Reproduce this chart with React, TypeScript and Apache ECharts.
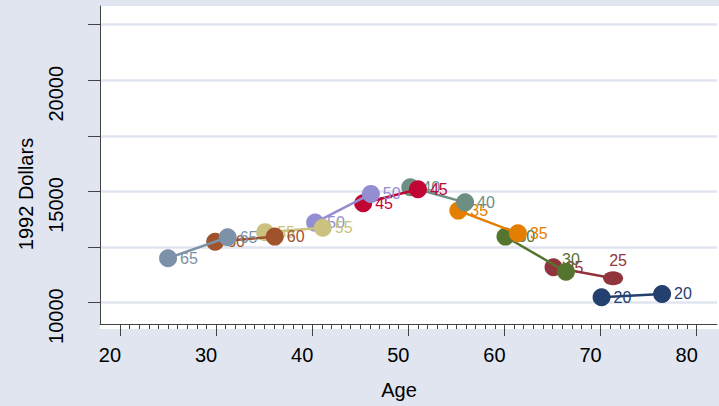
import React, { useEffect, useRef } from "react";
import * as echarts from "echarts";

// ---- data ----
const cohortLabels = ["20", "25", "30", "35", "40", "45", "50", "55", "60", "65"];
const firstAge = [70.1, 65.1, 60.1, 55.2, 50.2, 45.3, 40.3, 35.1, 29.9, 25.0];
const firstIncome = [10240, 11590, 12970, 14140, 15190, 14470, 13600, 13170, 12740, 12000];
const secondAge = [76.4, 71.3, 66.4, 61.4, 55.9, 51.0, 46.1, 41.1, 36.1, 31.2];
const secondIncome = [10390, 11100, 11390, 13120, 14510, 15100, 14890, 13370, 12970, 12940];

const xTickValues = [20, 30, 40, 50, 60, 70, 80];
const xMinorTickValues = [
  21, 22, 23, 24, 25, 26, 27, 28, 29,
  31, 32, 33, 34, 35, 36, 37, 38, 39,
  41, 42, 43, 44, 45, 46, 47, 48, 49,
  51, 52, 53, 54, 55, 56, 57, 58, 59,
  61, 62, 63, 64, 65, 66, 67, 68, 69,
  71, 72, 73, 74, 75, 76, 77, 78, 79,
];
const yTickValues = [10000, 12500, 15000, 17500, 20000, 22500];
const yLabelValues = [10000, 15000, 20000];

const xAxisTitle = "Age";
const yAxisTitle = "1992 Dollars";

// ---- styles ----
const cohortColors = [
  "#24406F", "#90353B", "#55752F", "#E37E00", "#6E8E84",
  "#C10534", "#938DD2", "#CAC27E", "#A0522D", "#7B92A8",
];
// label placement overrides (series index -> second point label offset from marker centre)
const secondPointLabelShift: Record<number, [number, number]> = {
  1: [5, -18],
  2: [5, -12],
};
// marker shape override (series index -> second point marker size)
const secondPointMarkerSize: Record<number, [number, number]> = {
  1: [20, 14],
};
const BG = "#E1E5F0";
const AXIS = "#444444";
const FONT = "'Liberation Sans', Arial, Helvetica, sans-serif";

export default function App() {
  const ref = useRef<HTMLDivElement>(null);

  useEffect(() => {
    if (!ref.current) return;
    const chart = echarts.init(ref.current, undefined, { renderer: "svg" });

    const series = cohortLabels.map((lab, i) => {
      const second: any = { value: [secondAge[i], secondIncome[i]] };
      if (secondPointLabelShift[i]) {
        second.label = { position: "inside", offset: secondPointLabelShift[i] };
      }
      if (secondPointMarkerSize[i]) {
        second.symbolSize = secondPointMarkerSize[i];
      }
      return {
        type: "line",
        name: lab,
        xAxisIndex: 0,
        yAxisIndex: 0,
        z: 2 + i,
        data: [{ value: [firstAge[i], firstIncome[i]] }, second],
        symbol: "circle",
        symbolSize: 18,
        showAllSymbol: true,
        lineStyle: { color: cohortColors[i], width: 2.5 },
        itemStyle: { color: cohortColors[i], opacity: 1 },
        label: {
          show: true,
          position: "right",
          distance: 3,
          formatter: lab,
          color: cohortColors[i],
          fontSize: 16,
          fontFamily: FONT,
        },
        emphasis: { disabled: true },
      };
    });

    const option: any = {
      animation: false,
      backgroundColor: BG,
      textStyle: { fontFamily: FONT },
      grid: {
        left: 100,
        right: 2,
        top: 6,
        bottom: 82,
        containLabel: false,
        outerBoundsMode: "none",
      },
      graphic: [
        {
          type: "rect",
          z: -10,
          silent: true,
          shape: { x: 100, y: 6, width: 619, height: 323 },
          style: { fill: "#FFFFFF" },
        },
        {
          type: "text",
          x: 26,
          y: 194,
          rotation: Math.PI / 2,
          silent: true,
          style: {
            text: yAxisTitle,
            fontSize: 20,
            fontFamily: FONT,
            fill: "#000000",
            align: "center",
            verticalAlign: "middle",
          },
        },
        {
          type: "text",
          x: 399,
          y: 390,
          silent: true,
          style: {
            text: xAxisTitle,
            fontSize: 20,
            fontFamily: FONT,
            fill: "#000000",
            align: "center",
            verticalAlign: "middle",
          },
        },
      ],
      xAxis: [
        {
          type: "value",
          min: 17.92,
          max: 82.11,
          position: "bottom",
          axisLine: { show: true, onZero: false, lineStyle: { color: AXIS, width: 1 } },
          axisTick: {
            show: true,
            length: 12,
            customValues: xTickValues,
            lineStyle: { color: AXIS, width: 1 },
          },
          axisLabel: {
            show: true,
            customValues: xTickValues,
            formatter: (v: number) => String(v),
            fontSize: 20,
            color: "#000000",
            margin: 21,
            padding: [0, 20, 0, 0],
            fontFamily: FONT,
          },
          splitLine: { show: false },
        },
        {
          type: "value",
          min: 17.92,
          max: 82.11,
          position: "bottom",
          axisLine: { show: false, onZero: false },
          axisTick: {
            show: true,
            length: 5,
            customValues: xMinorTickValues,
            lineStyle: { color: AXIS, width: 1 },
          },
          axisLabel: { show: false },
          splitLine: { show: false },
        },
      ],
      yAxis: {
        type: "value",
        min: 9040,
        max: 23340,
        axisLine: { show: true, onZero: false, lineStyle: { color: AXIS, width: 1 } },
        axisTick: {
          show: true,
          length: 12,
          customValues: yTickValues,
          lineStyle: { color: AXIS, width: 1 },
        },
        axisLabel: {
          show: true,
          customValues: yLabelValues,
          formatter: (v: number) => String(Math.round(v)),
          rotate: 90,
          fontSize: 20,
          color: "#000000",
          margin: 34,
          padding: [0, 27, 0, 0],
          fontFamily: FONT,
        },
        splitLine: { show: true, lineStyle: { color: BG, width: 2.5 } },
      },
      series,
    };

    chart.setOption(option);
    return () => {
      chart.dispose();
    };
  }, []);

  return (
    <div
      ref={ref}
      style={{ position: "fixed", left: 0, top: 0, width: 719, height: 406 }}
    />
  );
}
